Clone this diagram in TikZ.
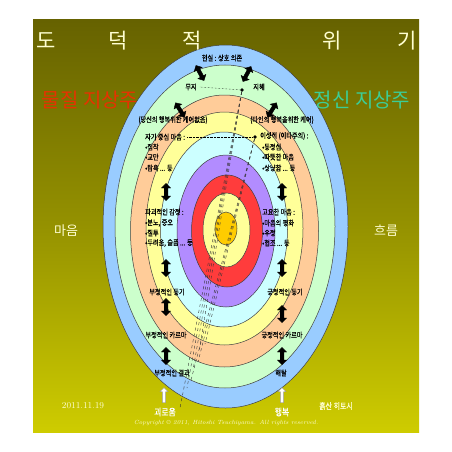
\documentclass[tikz,border=0pt]{standalone}
\usepackage{fontspec}
\usepackage{tikz}
\usetikzlibrary{shapes.arrows}
\newfontfamily\kr{Noto Sans CJK KR}
\newfontfamily\krn[FakeStretch=0.82,FakeBold=0.8]{Noto Sans CJK KR}
\definecolor{olivetop}{RGB}{102,98,0}
\definecolor{olivebot}{RGB}{206,204,0}
\definecolor{cream}{RGB}{255,255,210}
\definecolor{ringblue}{RGB}{153,204,255}
\definecolor{ringgreen}{RGB}{204,255,204}
\definecolor{ringpeach}{RGB}{255,204,153}
\definecolor{ringyellow}{RGB}{255,255,153}
\definecolor{ringcyan}{RGB}{204,255,255}
\definecolor{ringpurple}{RGB}{178,140,255}
\definecolor{ringred}{RGB}{255,60,60}
\definecolor{ringcore}{RGB}{255,204,0}
\definecolor{matred}{RGB}{230,50,0}
\definecolor{spigreen}{RGB}{60,205,150}

\begin{document}
\begin{tikzpicture}[x=1pt,y=-1pt,
	ring/.style={draw=black!75, line width=0.5pt},
	lbl/.style={font=\krn\fontsize{7.5}{8}\selectfont, inner sep=0pt},
	lst/.style={lbl, anchor=west},
	updown/.style={double arrow, fill=black, draw=black, minimum height=17pt, minimum width=9pt, double arrow head extend=1.5pt, inner sep=0.8pt},
	upwhite/.style={single arrow, fill=white, draw=black!40, rotate=90, minimum height=15pt, minimum width=8pt, single arrow head extend=1.5pt, inner sep=0.8pt},
	dot/.style={circle, fill=black, inner sep=1.3pt},
	link/.style={dashed, line width=0.4pt, black!80}]
	\useasboundingbox (0,0) rectangle (452,452);
	\fill[white] (0,0) rectangle (452,452);
	\shade[top color=olivetop, bottom color=olivebot, middle color=olivetop!55!olivebot] (33,20) rectangle (419,432);
	% rings
	\draw[ring, fill=ringblue] (225.5,226.5) ellipse [x radius=122.5pt, y radius=181.5pt];
	\draw[ring, fill=ringgreen] (225,226.5) ellipse [x radius=110pt, y radius=161.5pt];
	\draw[ring, fill=ringpeach] (224.5,231) ellipse [x radius=94pt, y radius=136pt];
	\draw[ring, fill=ringyellow] (224.5,228.5) ellipse [x radius=78.5pt, y radius=116.5pt];
	\draw[ring, fill=ringcyan] (224,229.5) ellipse [x radius=63.5pt, y radius=97.5pt];
	\draw[ring, fill=ringpurple] (226,231) ellipse [x radius=49pt, y radius=76pt];
	\draw[ring, fill=ringred] (227,231) ellipse [x radius=35.5pt, y radius=56pt];
	\draw[ring, fill=ringyellow] (226.5,230) ellipse [x radius=23.5pt, y radius=37pt];
	\draw[ring, fill=ringcore] (226,228.5) ellipse [x radius=11pt, y radius=16.5pt];
	% title and side words
	\node[font=\kr\fontsize{21}{24}\selectfont, text=cream] (t1) at (46,41) {도};
	\node[font=\kr\fontsize{21}{24}\selectfont, text=cream] (t2) at (118,41) {덕};
	\node[font=\kr\fontsize{21}{24}\selectfont, text=cream] (t3) at (192,41) {적};
	\node[font=\kr\fontsize{21}{24}\selectfont, text=cream] (t4) at (332,41) {위};
	\node[font=\kr\fontsize{21}{24}\selectfont, text=cream] (t5) at (407,41) {기};
	\node[font=\kr\fontsize{20}{22}\selectfont, text=matred] (matter) at (90,100) {물질 지상주};
	\node[font=\kr\fontsize{20}{22}\selectfont, text=spigreen] (spirit) at (362,100) {정신 지상주};
	\node[font=\kr\fontsize{13}{15}\selectfont, text=cream] (mind) at (66,231) {마음};
	\node[font=\kr\fontsize{13}{15}\selectfont, text=cream] (flow) at (386,231) {흐름};
	\node[font=\fontsize{9}{10}\selectfont, text=cream] (date) at (83,406) {2011.11.19};
	\node[font=\krn\fontsize{8.5}{9}\selectfont, text=cream] (author) at (336,406) {흙산 히토시};
	\node[font=\itshape\fontsize{6}{7}\selectfont, text=cream] (copy) at (226,423) {Copyright \copyright{} 2011, Hitoshi Tsuchiyama. All rights reserved.};
	% ring texts
	\node[lbl] (real) at (222,58) {현실 : 상호 의존};
	\node[lbl] (muji) at (191,87) {무지};
	\node[lbl] (wisdom) at (259,87) {지혜};
	\node[dot] (dotA) at (242,90) {};
	\node[lbl] (nocare) at (173,120) {(당신의 행복위한 케어없음)};
	\node[lbl] (care) at (282,120) {(타인의 행복을위한 케어)};
	\node[lst] (self) at (145,137) {자기 중심 마음 :};
	\node[lst] (self1) at (145,147) {•집착};
	\node[lst] (self2) at (145,157) {•교만};
	\node[lst] (self3) at (145,168) {•탐욕 ... 등};
	\node[dot] (dotB) at (255,137) {};
	\node[lst] (reason) at (260,136) {이성적 (이타주의) :};
	\node[lst] (reason1) at (262,147) {•동정심};
	\node[lst] (reason2) at (262,157) {•따뜻한 마음};
	\node[lst] (reason3) at (262,168) {•상냥함 ... 등};
	\node[lst] (destr) at (145,212) {파괴적인 감정 :};
	\node[lst] (destr1) at (145,223) {•분노, 증오};
	\node[lst] (destr2) at (145,233) {•질투};
	\node[lst] (destr3) at (145,243) {•두려움, 슬픔 ... 등};
	\node[lst] (calm) at (262,212) {고요한 마음 :};
	\node[lst] (calm1) at (262,223) {•마음의 평화};
	\node[lst] (calm2) at (262,233) {•우정};
	\node[lst] (calm3) at (262,243) {•협조 ... 등};
	\node[lbl] (negmot) at (167,292) {부정적인 동기};
	\node[lbl] (posmot) at (285,292) {긍정적인 동기};
	\node[lbl] (negkar) at (166,335) {부정적인 카르마};
	\node[lbl] (poskar) at (282,335) {긍정적인 카르마};
	\node[lbl] (negres) at (172,373) {부정적인 결과};
	\node[lbl] (libera) at (281,373) {해탈};
	\node[font=\krn\fontsize{9.5}{11}\selectfont, text=white] (pain) at (165,412) {괴로움};
	\node[font=\krn\fontsize{9.5}{11}\selectfont, text=white] (happy) at (282,412) {행복};
	% arrows
	\node[updown, rotate=118] (ua1) at (200,73) {};
	\node[updown, rotate=62] (ua2) at (247,74) {};
	\node[updown, rotate=122] (ua3) at (180,110) {};
	\node[updown, rotate=58] (ua4) at (272,110) {};
	\node[updown, rotate=90] (ua5) at (166,192) {};
	\node[updown, rotate=90] (ua6) at (282,192) {};
	\node[updown, rotate=90] (ua7) at (166,268) {};
	\node[updown, rotate=90] (ua8) at (282,268) {};
	\node[updown, rotate=90] (ua9) at (166,307) {};
	\node[updown, rotate=90] (ua10) at (282,314) {};
	\node[updown, rotate=90] (ua11) at (166,356) {};
	\node[updown, rotate=90] (ua12) at (282,356) {};
	\node[upwhite] (wa1) at (164,396) {};
	\node[upwhite] (wa2) at (282,396) {};
	% links
	\coordinate (e1) at (180,408);
	\coordinate (e2) at (187,388);
	\coordinate (e3) at (193,370);
	\coordinate (e4) at (199,352);
	\coordinate (e5) at (191,380);
	\coordinate (e6) at (198,362);
	\coordinate (e7) at (205,344);
	\draw[densely dotted] (muji.east) ++(3,0) -- (dotA);
	\draw[densely dotted] (self.east) ++(2,0) -- (dotB);
	\draw[link] (dotA) -- (e1);
	\draw[link] (dotA) -- (e2);
	\draw[link] (dotA) -- (e3);
	\draw[link] (dotA) -- (e4);
	\draw[link] (dotB) -- (e5);
	\draw[link] (dotB) -- (e6);
	\draw[link] (dotB) -- (e7);
\end{tikzpicture}
\end{document}
